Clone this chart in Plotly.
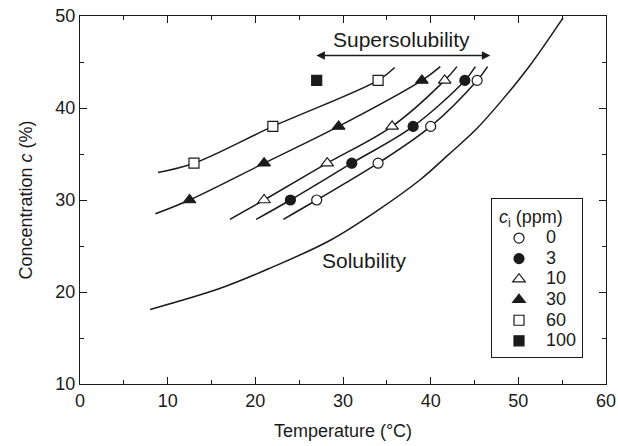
import plotly.graph_objects as go

# ---- data ----
levels = ["0", "3", "10", "30", "60", "100"]

# marker points (temperature, concentration)
pts_0_x = [27.0, 34.0, 40.0, 45.3]
pts_0_y = [30, 34, 38, 43]
pts_3_x = [24.0, 31.0, 38.0, 43.9]
pts_3_y = [30, 34, 38, 43]
pts_10_x = [21.0, 28.2, 35.6, 41.6]
pts_10_y = [30, 34, 38, 43]
pts_30_x = [12.5, 21.0, 29.5, 39.0]
pts_30_y = [30, 34, 38, 43]
pts_60_x = [13.0, 22.0, 34.0]
pts_60_y = [34, 38, 43]
pts_100_x = [27.0]
pts_100_y = [43]

# supersolubility curves
curve_0_x = [23.2, 27.0, 34.0, 40.0, 45.3, 46.5]
curve_0_y = [27.9, 30, 34, 38, 43, 44.5]
curve_3_x = [20.1, 24.0, 31.0, 38.0, 43.9, 45.1]
curve_3_y = [27.9, 30, 34, 38, 43, 44.5]
curve_10_x = [17.1, 21.0, 28.2, 35.6, 41.6, 43.0]
curve_10_y = [27.9, 30, 34, 38, 43, 44.5]
curve_30_x = [8.6, 12.5, 21.0, 29.5, 39.0, 41.1]
curve_30_y = [28.5, 30, 34, 38, 43, 44.5]
curve_60_x = [8.9, 13.0, 22.0, 34.0, 35.9]
curve_60_y = [33.0, 34, 38, 43, 44.4]

# solubility curve
sol_x = [8.0, 16.0, 21.7, 28.5, 34.0, 38.8, 42.0, 45.3, 48.1, 51.3, 55.1]
sol_y = [18.1, 20.4, 22.6, 25.6, 28.9, 32.2, 34.9, 37.8, 40.8, 44.6, 49.8]

# annotation anchors
arrow_x0, arrow_x1, arrow_y = 26.8, 46.8, 45.7
super_label = ("Supersolubility", 36.7, 47.4)
sol_label = ("Solubility", 32.5, 23.4)

FONT = "Liberation Sans, Arial, Helvetica, sans-serif"
INK = "#1a1a1a"

fig = go.Figure()

line_style = dict(color=INK, width=1.5, shape="spline", smoothing=1.0)
for cx, cy in [(curve_0_x, curve_0_y), (curve_3_x, curve_3_y), (curve_10_x, curve_10_y),
               (curve_30_x, curve_30_y), (curve_60_x, curve_60_y), (sol_x, sol_y)]:
    fig.add_trace(go.Scatter(x=cx, y=cy, mode="lines", line=line_style,
                             showlegend=False, hoverinfo="skip"))

marker_defs = [
    (pts_0_x, pts_0_y, "circle", "white", 10),
    (pts_3_x, pts_3_y, "circle", INK, 10),
    (pts_10_x, pts_10_y, "triangle-up", "white", 11),
    (pts_30_x, pts_30_y, "triangle-up", INK, 11),
    (pts_60_x, pts_60_y, "square", "white", 10),
    (pts_100_x, pts_100_y, "square", INK, 10),
]
for name, (px, py, sym, fill, sz) in zip(levels, marker_defs):
    fig.add_trace(go.Scatter(
        x=px, y=py, mode="markers",
        name='<span style="font-size:18px">' + name + "</span>",
        marker=dict(symbol=sym, size=sz, color=fill,
                    line=dict(color=INK, width=1.2)),
    ))

fig.add_annotation(x=arrow_x1, y=arrow_y, ax=arrow_x0, ay=arrow_y,
                   xref="x", yref="y", axref="x", ayref="y",
                   showarrow=True, arrowside="end+start", arrowhead=2,
                   startarrowhead=2, arrowsize=1.2, startarrowsize=1.2,
                   arrowwidth=1.4, arrowcolor=INK, text="")
fig.add_annotation(x=super_label[1], y=super_label[2], text=super_label[0],
                   xref="x", yref="y", showarrow=False,
                   font=dict(size=21, color=INK, family=FONT))
fig.add_annotation(x=sol_label[1], y=sol_label[2], text=sol_label[0],
                   xref="x", yref="y", showarrow=False,
                   font=dict(size=21, color=INK, family=FONT))

axis_common = dict(
    showline=True, linecolor=INK, linewidth=1.3, mirror="allticks",
    ticks="inside", ticklen=7, tickwidth=1.2, tickcolor=INK,
    showgrid=False, zeroline=False, automargin=False,
    tickfont=dict(size=18, color=INK, family=FONT),
    minor=dict(ticks="inside", ticklen=4, tickwidth=1.2, tickcolor=INK, dtick=5, showgrid=False),
)

fig.update_xaxes(range=[0, 60], dtick=10, tick0=0,
                 title=dict(text="Temperature (°C)", font=dict(size=18, color=INK, family=FONT), standoff=14),
                 **axis_common)
fig.update_yaxes(range=[10, 50], dtick=10, tick0=10,
                 title=dict(text="Concentration <i>c</i> (%)", font=dict(size=18, color=INK, family=FONT), standoff=17),
                 **axis_common)

fig.update_layout(
    width=618, height=446,
    margin=dict(l=80, r=12, t=16, b=62, autoexpand=False),
    paper_bgcolor="white", plot_bgcolor="white",
    font=dict(family=FONT, color=INK, size=18),
    legend=dict(
        title=dict(text=" <i>c</i><sub>i</sub> (ppm)", font=dict(size=18, color=INK, family=FONT)),
        x=0.781, y=0.505, xanchor="left", yanchor="top",
        bordercolor=INK, borderwidth=1.2, bgcolor="white",
        font=dict(size=13.5, color=INK, family=FONT),
        tracegroupgap=0, itemwidth=44,
    ),
)

fig.write_html("out.html")
